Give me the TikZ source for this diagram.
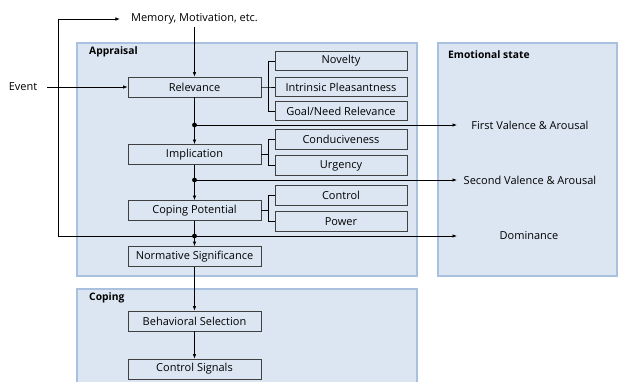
\documentclass[tikz,border=0pt]{standalone}
\usepackage{fontspec}
\setmainfont{Open Sans}
\usetikzlibrary{arrows.meta}
\definecolor{panelfill}{HTML}{DCE6F2}
\definecolor{panelline}{HTML}{A9C0DF}
\definecolor{boxline}{HTML}{404040}
\tikzset{
  panel/.style={fill=panelfill, draw=panelline, line width=1.6pt},
  paneltitle/.style={font=\fontsize{10.3}{12}\selectfont\bfseries, anchor=west, inner sep=0pt},
  mainbox/.style={draw=boxline, line width=0.8pt, minimum width=133pt, minimum height=20pt, inner sep=0pt, font=\fontsize{11}{13}\selectfont},
  subbox/.style={draw=boxline, line width=0.8pt, minimum width=132pt, minimum height=19.5pt, inner sep=0pt, font=\fontsize{11}{13}\selectfont},
  label/.style={inner sep=0pt, font=\fontsize{11}{13}\selectfont},
  link/.style={line width=0.7pt, draw=black},
  arr/.style={link, -{Latex[length=4.5pt,width=3.5pt]}},
  dot/.style={circle, fill=black, inner sep=0pt, minimum size=4.8pt},
}
\begin{document}
\begin{tikzpicture}[x=1pt, y=-1pt]
\useasboundingbox (0,0) rectangle (619,381);

% panels
\path[panel] (77,43) rectangle (417,276);
\path[panel] (438,43) rectangle (617,276);
\path[panel] (77,289) rectangle (417,390);
\node[paneltitle] (tapp) at (89,52) {Appraisal};
\node[paneltitle] (temo) at (448,55) {Emotional state};
\node[paneltitle] (tcop) at (89,298) {Coping};

% main stages
\node[mainbox] (rel)  at (194.5,87)    {Relevance};
\node[mainbox] (imp)  at (194.5,154.5) {Implication};
\node[mainbox] (cop)  at (194.5,210.5) {Coping Potential};
\node[mainbox] (nor)  at (194.5,256.5) {Normative Significance};
\node[mainbox] (beh)  at (194.5,321)   {Behavioral Selection};
\node[mainbox] (ctl)  at (194.5,369)   {Control Signals};

% sub checks
\node[subbox] (nov) at (341,61)    {Novelty};
\node[subbox] (ipl) at (341,87)    {Intrinsic Pleasantness};
\node[subbox] (gnr) at (341,111)   {Goal/Need Relevance};
\node[subbox] (con) at (341,139.5) {Conduciveness};
\node[subbox] (urg) at (341,165.5) {Urgency};
\node[subbox] (cnt) at (341,195.5) {Control};
\node[subbox] (pow) at (341,221.5) {Power};

% free labels
\node[label] (mem) at (194.5,19) {Memory, Motivation, etc.};
\node[label] (evt) at (23,87) {Event};
\node[label] (fva) at (530,125) {First Valence \& Arousal};
\node[label] (sva) at (530,180) {Second Valence \& Arousal};
\node[label] (dom) at (529,236) {Dominance};

% bracket junctions
\coordinate (jr) at (268,87);
\coordinate (ji) at (268,154.5);
\coordinate (jc) at (268,210.5);
\draw[link] (rel.east) -- (jr) -- (ipl.west);
\draw[link] (jr) |- (nov.west);
\draw[link] (jr) |- (gnr.west);
\draw[link] (imp.east) -- (ji);
\draw[link] (ji) |- (con.west);
\draw[link] (ji) |- (urg.west);
\draw[link] (cop.east) -- (jc);
\draw[link] (jc) |- (cnt.west);
\draw[link] (jc) |- (pow.west);

% branching points
\node[dot] (d1) at (194.5,125) {};
\node[dot] (d2) at (194.5,180) {};
\node[dot] (d3) at (194.5,236) {};
\coordinate (e1) at (457,125);
\coordinate (e2) at (457,180);
\coordinate (e3) at (457,236);
\coordinate (fb) at (58,236);

% main flow
\draw[arr] (evt.east) ++(10,0) -- (rel.west);
\draw[arr] (mem.south) ++(0,2) -- (rel.north);
\draw[link] (rel.south) -- (d1.center);
\draw[arr] (d1.center) -- (imp.north);
\draw[link] (imp.south) -- (d2.center);
\draw[arr] (d2.center) -- (cop.north);
\draw[link] (cop.south) -- (d3.center);
\draw[arr] (d3.center) -- (nor.north);
\draw[arr] (nor.south) -- (beh.north);
\draw[arr] (beh.south) -- (ctl.north);

% outputs to emotional state
\draw[arr] (d1.center) -- (e1);
\draw[arr] (d2.center) -- (e2);
\draw[arr] (d3.center) -- (e3);

% feedback loop
\draw[arr, shorten >=11pt] (d3.center) -- (fb) |- (mem.west);
\end{tikzpicture}
\end{document}
